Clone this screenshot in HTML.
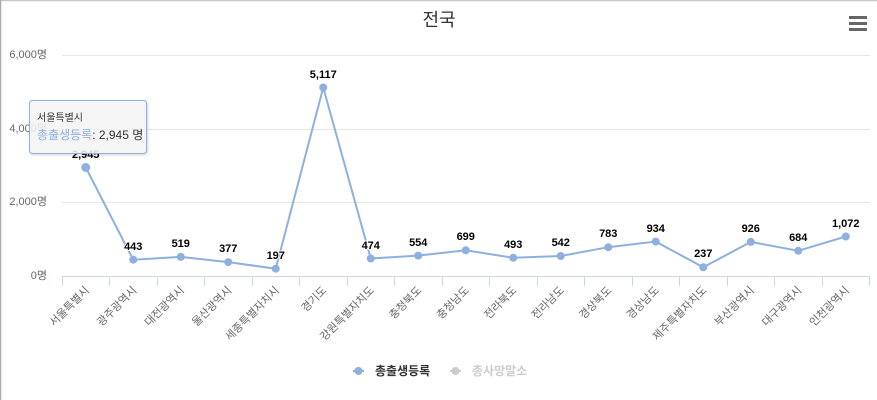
<!DOCTYPE html>
<html>
<head>
<meta charset="utf-8">
<style>
html,body{margin:0;padding:0;background:#fff;}
body{width:877px;height:400px;overflow:hidden;}
svg{display:block;font-family:"Liberation Sans","Noto Sans CJK KR",sans-serif;}
</style>
</head>
<body>
<svg width="877" height="400" viewBox="0 0 877 400" xmlns="http://www.w3.org/2000/svg">
<defs>
<filter id="sh" x="-10%" y="-10%" width="130%" height="140%">
<feDropShadow dx="1" dy="1" stdDeviation="1.2" flood-color="#000" flood-opacity="0.18"/>
</filter>
</defs>
<rect x="0" y="0" width="877" height="400" fill="#fff"/>
<line x1="0" y1="0.5" x2="877" y2="0.5" stroke="#c8c8c8" stroke-width="1.5"/>
<line x1="0.5" y1="0" x2="0.5" y2="400" stroke="#aaaaaa" stroke-width="1.5"/>

<!-- title -->
<text x="439" y="26" text-anchor="middle" font-size="18" fill="#333">전국</text>

<!-- hamburger -->
<rect x="849" y="16" width="18" height="3" fill="#666"/>
<rect x="849" y="22" width="18" height="3" fill="#666"/>
<rect x="849" y="28" width="18" height="3" fill="#666"/>

<!-- gridlines -->
<g stroke="#e6e6e6" stroke-width="1">
<line x1="62" y1="55.5" x2="870" y2="55.5"/>
<line x1="62" y1="129.5" x2="870" y2="129.5"/>
<line x1="62" y1="202.5" x2="870" y2="202.5"/>
</g>
<!-- axis -->
<line x1="62" y1="276.5" x2="870" y2="276.5" stroke="#ccd6eb" stroke-width="1"/>
<g stroke="#ccd6eb" stroke-width="1">
<line x1="62.5" y1="276" x2="62.5" y2="286"/>
<line x1="109.5" y1="276" x2="109.5" y2="286"/>
<line x1="157.5" y1="276" x2="157.5" y2="286"/>
<line x1="204.5" y1="276" x2="204.5" y2="286"/>
<line x1="252.5" y1="276" x2="252.5" y2="286"/>
<line x1="299.5" y1="276" x2="299.5" y2="286"/>
<line x1="347.5" y1="276" x2="347.5" y2="286"/>
<line x1="394.5" y1="276" x2="394.5" y2="286"/>
<line x1="442.5" y1="276" x2="442.5" y2="286"/>
<line x1="489.5" y1="276" x2="489.5" y2="286"/>
<line x1="537.5" y1="276" x2="537.5" y2="286"/>
<line x1="584.5" y1="276" x2="584.5" y2="286"/>
<line x1="632.5" y1="276" x2="632.5" y2="286"/>
<line x1="679.5" y1="276" x2="679.5" y2="286"/>
<line x1="727.5" y1="276" x2="727.5" y2="286"/>
<line x1="774.5" y1="276" x2="774.5" y2="286"/>
<line x1="822.5" y1="276" x2="822.5" y2="286"/>
<line x1="869.5" y1="276" x2="869.5" y2="286"/>
</g>

<!-- y labels -->
<g font-size="11" fill="#666" text-anchor="end">
<text x="47" y="58">6,000명</text>
<text x="47" y="132">4,000명</text>
<text x="47" y="205">2,000명</text>
<text x="47" y="279">0명</text>
</g>

<!-- x labels -->
<g font-size="11" fill="#666" text-anchor="end">
<text transform="translate(89.75,291) rotate(-45)">서울특별시</text>
<text transform="translate(137.25,291) rotate(-45)">광주광역시</text>
<text transform="translate(184.75,291) rotate(-45)">대전광역시</text>
<text transform="translate(232.25,291) rotate(-45)">울산광역시</text>
<text transform="translate(279.75,291) rotate(-45)">세종특별자치시</text>
<text transform="translate(327.25,291) rotate(-45)">경기도</text>
<text transform="translate(374.75,291) rotate(-45)">강원특별자치도</text>
<text transform="translate(422.25,291) rotate(-45)">충청북도</text>
<text transform="translate(469.75,291) rotate(-45)">충청남도</text>
<text transform="translate(517.25,291) rotate(-45)">전라북도</text>
<text transform="translate(564.75,291) rotate(-45)">전라남도</text>
<text transform="translate(612.25,291) rotate(-45)">경상북도</text>
<text transform="translate(659.75,291) rotate(-45)">경상남도</text>
<text transform="translate(707.25,291) rotate(-45)">제주특별자치도</text>
<text transform="translate(754.75,291) rotate(-45)">부산광역시</text>
<text transform="translate(802.25,291) rotate(-45)">대구광역시</text>
<text transform="translate(849.75,291) rotate(-45)">인천광역시</text>
</g>

<!-- series -->
<polyline fill="none" stroke="#8eb0e0" stroke-width="2" stroke-linejoin="round"
points="85.75,167.5 133.25,259.7 180.75,256.9 228.25,262.1 275.75,268.7 323.25,87.5 370.75,258.5 418.25,255.6 465.75,250.3 513.25,257.8 560.75,256.0 608.25,247.2 655.75,241.6 703.25,267.3 750.75,241.9 798.25,250.8 845.75,236.5"/>
<g fill="#8eb0e0">
<circle cx="85.75" cy="167.5" r="4.5"/>
<circle cx="133.25" cy="259.7" r="4"/>
<circle cx="180.75" cy="256.9" r="4"/>
<circle cx="228.25" cy="262.1" r="4"/>
<circle cx="275.75" cy="268.7" r="4"/>
<circle cx="323.25" cy="87.5" r="4"/>
<circle cx="370.75" cy="258.5" r="4"/>
<circle cx="418.25" cy="255.6" r="4"/>
<circle cx="465.75" cy="250.3" r="4"/>
<circle cx="513.25" cy="257.8" r="4"/>
<circle cx="560.75" cy="256.0" r="4"/>
<circle cx="608.25" cy="247.2" r="4"/>
<circle cx="655.75" cy="241.6" r="4"/>
<circle cx="703.25" cy="267.3" r="4"/>
<circle cx="750.75" cy="241.9" r="4"/>
<circle cx="798.25" cy="250.8" r="4"/>
<circle cx="845.75" cy="236.5" r="4"/>
</g>

<!-- data labels -->
<g font-size="11" font-weight="bold" fill="#000" text-anchor="middle" stroke="#fff" stroke-width="2" paint-order="stroke" stroke-linejoin="round">
<text x="85.75" y="158">2,945</text>
<text x="133.25" y="250">443</text>
<text x="180.75" y="247">519</text>
<text x="228.25" y="252">377</text>
<text x="275.75" y="259">197</text>
<text x="323.25" y="78">5,117</text>
<text x="370.75" y="249">474</text>
<text x="418.25" y="246">554</text>
<text x="465.75" y="240">699</text>
<text x="513.25" y="248">493</text>
<text x="560.75" y="246">542</text>
<text x="608.25" y="237">783</text>
<text x="655.75" y="232">934</text>
<text x="703.25" y="257">237</text>
<text x="750.75" y="232">926</text>
<text x="798.25" y="241">684</text>
<text x="845.75" y="227">1,072</text>
</g>

<!-- legend -->
<line x1="353" y1="371" x2="364" y2="371" stroke="#8eb0e0" stroke-width="2"/>
<circle cx="358.5" cy="371" r="4" fill="#8eb0e0"/>
<text x="375" y="375" font-size="12" font-weight="bold" fill="#333">총출생등록</text>
<line x1="450" y1="371" x2="461" y2="371" stroke="#cccccc" stroke-width="2"/>
<circle cx="455.5" cy="371" r="4" fill="#cccccc"/>
<text x="472" y="375" font-size="12" font-weight="bold" fill="#cccccc">총사망말소</text>

<!-- tooltip -->
<rect x="29.5" y="100.5" width="117" height="53" rx="3" ry="3" fill="rgba(247,247,247,0.85)" stroke="#8eb0e0" stroke-width="1" filter="url(#sh)"/>
<text x="37" y="121" font-size="10" fill="#333">서울특별시</text>
<text x="37" y="139" font-size="12" fill="#333"><tspan fill="#8eb0e0">총출생등록</tspan>: 2,945 명</text>
</svg>
</body>
</html>
